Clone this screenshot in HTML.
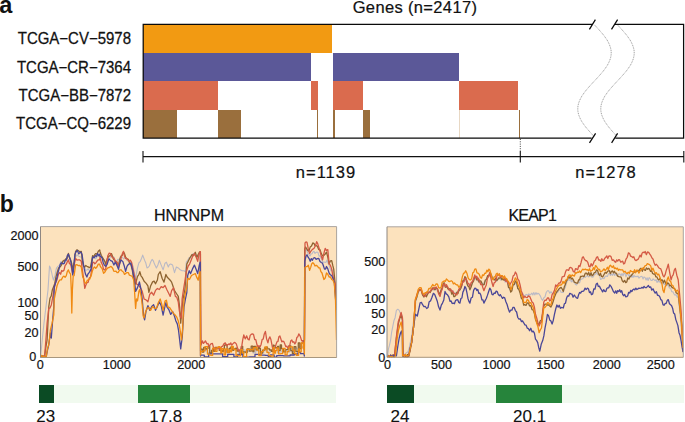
<!DOCTYPE html>
<html><head><meta charset="utf-8">
<style>
html,body{margin:0;padding:0;background:#fff;width:685px;height:422px;overflow:hidden}
svg{position:absolute;left:0;top:0;display:block}
text{font-family:"Liberation Sans",sans-serif;fill:#111}
.m{stroke:#111;stroke-width:0.22}
</style></head><body>
<svg width="685" height="422" viewBox="0 0 685 422">
<defs>
<clipPath id="cH"><rect x="40.5" y="226.6" width="296.5" height="131"/></clipPath>
<clipPath id="cK"><rect x="387" y="226.8" width="296.3" height="130.6"/></clipPath>
</defs>
<!-- panel a -->
<text x="-0.8" y="12.8" font-size="23.5" font-weight="bold">a</text>
<text class="m" x="415" y="12.7" font-size="16.5" letter-spacing="0.35" text-anchor="middle">Genes (n=2417)</text>
<g font-size="15" text-anchor="end" style="stroke:#111;stroke-width:0.25">
<text transform="translate(131 44.1) scale(1 1.05)">TCGA−CV−5978</text>
<text transform="translate(131 72.6) scale(1 1.05)">TCGA−CR−7364</text>
<text transform="translate(131 100.8) scale(1 1.05)">TCGA−BB−7872</text>
<text transform="translate(131 129.2) scale(1 1.05)">TCGA−CQ−6229</text>
</g>
<g shape-rendering="crispEdges">
<rect x="143" y="24.4" width="189.2" height="28.4" fill="#F29A12"/>
<rect x="143" y="52.8" width="168.1" height="28.4" fill="#5B5898"/>
<rect x="332.7" y="52.8" width="126" height="28.4" fill="#5B5898"/>
<rect x="143" y="81.2" width="75.1" height="28.5" fill="#DA6B4E"/>
<rect x="311.1" y="81.2" width="6.7" height="28.5" fill="#DA6B4E"/>
<rect x="332.7" y="81.2" width="30.3" height="28.5" fill="#DA6B4E"/>
<rect x="458.7" y="81.2" width="59.5" height="28.5" fill="#DA6B4E"/>
<rect x="143" y="109.7" width="33.9" height="28.3" fill="#9A6F3D"/>
<rect x="218.1" y="109.7" width="22.8" height="28.3" fill="#9A6F3D"/>
<rect x="316.8" y="109.7" width="1.4" height="28.3" fill="#9A6F3D"/>
<rect x="332.6" y="109.7" width="2.2" height="28.3" fill="#9A6F3D"/>
<rect x="363" y="109.7" width="6.7" height="28.3" fill="#9A6F3D"/>
<rect x="518.5" y="109.7" width="1.8" height="28.3" fill="#9A6F3D"/>
<rect x="458.7" y="109.7" width="0.8" height="28.3" fill="#E8D8C4"/>
</g>
<g stroke="#0a0a0a" stroke-width="1.25" fill="none">
<path d="M592.4 24.4 H143.2 V138 H591.6"/>
<path d="M615 24.4 H683.6 V138 H615.3"/>
<path d="M589.4 29.4 L595.4 19.6 M611.5 29.4 L617.6 19.6 M589.5 142.9 L595.6 133.3 M611.6 142.9 L617.6 133.3"/>
</g>
<g stroke="#555" stroke-width="0.6" fill="none" stroke-dasharray="1 0.8">
<path d="M594.5 24.9 L595.4 25.9 L596.4 26.9 L597.3 27.9 L598.2 28.9 L599.1 29.9 L600.0 30.9 L600.9 31.9 L601.7 32.9 L602.6 33.9 L603.4 34.9 L604.2 35.9 L604.9 36.9 L605.6 37.9 L606.3 38.9 L607.0 39.9 L607.6 40.9 L608.1 41.9 L608.6 42.9 L609.1 43.9 L609.5 44.9 L609.9 45.9 L610.3 46.9 L610.5 47.9 L610.8 48.9 L611.0 49.9 L611.1 50.9 L611.2 51.9 L611.2 52.9 L611.2 53.9 L611.1 54.9 L611.0 55.9 L610.8 56.9 L610.5 57.9 L610.3 58.9 L609.9 59.9 L609.5 60.9 L609.1 61.9 L608.6 62.9 L608.1 63.9 L607.6 64.9 L607.0 65.9 L606.3 66.9 L605.6 67.9 L604.9 68.9 L604.2 69.9 L603.4 70.9 L602.6 71.9 L601.7 72.9 L600.9 73.9 L600.0 74.9 L599.1 75.9 L598.2 76.9 L597.3 77.9 L596.4 78.9 L595.4 79.9 L594.5 80.9 L593.6 81.9 L592.6 82.9 L591.7 83.9 L590.8 84.9 L589.9 85.9 L589.0 86.9 L588.1 87.9 L587.3 88.9 L586.4 89.9 L585.6 90.9 L584.8 91.9 L584.1 92.9 L583.4 93.9 L582.7 94.9 L582.0 95.9 L581.4 96.9 L580.9 97.9 L580.4 98.9 L579.9 99.9 L579.5 100.9 L579.1 101.9 L578.7 102.9 L578.5 103.9 L578.2 104.9 L578.0 105.9 L577.9 106.9 L577.8 107.9 L577.8 108.9 L577.8 109.9 L577.9 110.9 L578.0 111.9 L578.2 112.9 L578.5 113.9 L578.7 114.9 L579.1 115.9 L579.5 116.9 L579.9 117.9 L580.4 118.9 L580.9 119.9 L581.4 120.9 L582.0 121.9 L582.7 122.9 L583.4 123.9 L584.1 124.9 L584.8 125.9 L585.6 126.9 L586.4 127.9 L587.3 128.9 L588.1 129.9 L589.0 130.9 L589.9 131.9 L590.8 132.9 L591.7 133.9 L592.6 134.9 L593.6 135.9 L594.5 136.9"/>
<path d="M617.5 24.9 L618.4 25.9 L619.4 26.9 L620.3 27.9 L621.2 28.9 L622.1 29.9 L623.0 30.9 L623.9 31.9 L624.7 32.9 L625.6 33.9 L626.4 34.9 L627.2 35.9 L627.9 36.9 L628.6 37.9 L629.3 38.9 L630.0 39.9 L630.6 40.9 L631.1 41.9 L631.6 42.9 L632.1 43.9 L632.5 44.9 L632.9 45.9 L633.3 46.9 L633.5 47.9 L633.8 48.9 L634.0 49.9 L634.1 50.9 L634.2 51.9 L634.2 52.9 L634.2 53.9 L634.1 54.9 L634.0 55.9 L633.8 56.9 L633.5 57.9 L633.3 58.9 L632.9 59.9 L632.5 60.9 L632.1 61.9 L631.6 62.9 L631.1 63.9 L630.6 64.9 L630.0 65.9 L629.3 66.9 L628.6 67.9 L627.9 68.9 L627.2 69.9 L626.4 70.9 L625.6 71.9 L624.7 72.9 L623.9 73.9 L623.0 74.9 L622.1 75.9 L621.2 76.9 L620.3 77.9 L619.4 78.9 L618.4 79.9 L617.5 80.9 L616.6 81.9 L615.6 82.9 L614.7 83.9 L613.8 84.9 L612.9 85.9 L612.0 86.9 L611.1 87.9 L610.3 88.9 L609.4 89.9 L608.6 90.9 L607.8 91.9 L607.1 92.9 L606.4 93.9 L605.7 94.9 L605.0 95.9 L604.4 96.9 L603.9 97.9 L603.4 98.9 L602.9 99.9 L602.5 100.9 L602.1 101.9 L601.7 102.9 L601.5 103.9 L601.2 104.9 L601.0 105.9 L600.9 106.9 L600.8 107.9 L600.8 108.9 L600.8 109.9 L600.9 110.9 L601.0 111.9 L601.2 112.9 L601.5 113.9 L601.7 114.9 L602.1 115.9 L602.5 116.9 L602.9 117.9 L603.4 118.9 L603.9 119.9 L604.4 120.9 L605.0 121.9 L605.7 122.9 L606.4 123.9 L607.1 124.9 L607.8 125.9 L608.6 126.9 L609.4 127.9 L610.3 128.9 L611.1 129.9 L612.0 130.9 L612.9 131.9 L613.8 132.9 L614.7 133.9 L615.6 134.9 L616.6 135.9 L617.5 136.9"/>
</g>
<g stroke="#111" stroke-width="1.1" fill="none">
<path d="M143 156.6 H684"/>
<path d="M143 151 V162.4 M520.3 151 V162.6 M683.8 151 V162.4"/>
</g>
<path d="M520.3 139 V151" stroke="#111" stroke-width="0.8" stroke-dasharray="1 1.3" fill="none"/>
<text class="m" x="326" y="178" font-size="16.5" letter-spacing="1" text-anchor="middle">n=1139</text>
<text class="m" x="606" y="178.2" font-size="16.5" letter-spacing="1" text-anchor="middle">n=1278</text>

<!-- panel b -->
<text x="-0.2" y="212.3" font-size="23" font-weight="bold">b</text>
<text class="m" x="189" y="220.7" font-size="16" text-anchor="middle">HNRNPM</text>
<text class="m" x="532.3" y="220.7" font-size="16" letter-spacing="-0.8" text-anchor="middle">KEAP1</text>

<!-- plot backgrounds -->
<rect x="40.5" y="226.6" width="296.5" height="131" fill="#FCE2BD"/>
<rect x="387" y="226.8" width="296.3" height="130.6" fill="#FCE2BD"/>
<g fill="none" stroke-width="1.3" stroke-linejoin="round" clip-path="url(#cH)">
<polyline points="40.5,357.0 41.7,345.7 42.8,334.3 44.0,323.0 45.0,314.8 46.0,306.5 47.0,298.2 48.0,290.0 49.5,266.0 50.5,268.1 51.5,272.0 52.5,276.5 53.5,280.0 55.0,275.7 56.4,268.4 57.5,266.7 58.5,266.0 59.7,265.4 60.8,261.6 62.0,262.0 63.2,261.7 64.4,260.8 65.6,262.0 67.0,259.2 68.4,255.0 69.5,256.6 70.6,260.0 71.7,266.8 72.7,271.0 74.2,262.6 75.6,257.0 77.0,254.7 78.4,256.0 79.8,256.8 81.3,257.0 82.3,261.1 83.4,266.0 84.6,266.6 85.7,270.3 86.9,270.0 88.1,268.9 89.3,270.3 90.5,270.0 91.5,262.4 92.6,258.0 93.7,258.3 94.8,257.2 95.8,258.8 96.9,257.0 98.3,254.9 99.7,255.0 100.0,254.0 101.0,255.2 102.0,258.0 103.0,258.4 104.0,260.0 105.0,262.0 106.1,262.5 107.2,260.9 108.3,258.4 109.4,259.2 110.5,256.6 111.6,256.0 112.6,257.7 113.6,256.9 114.6,258.6 115.6,261.7 116.6,262.0 117.8,259.2 119.0,259.7 120.3,256.6 121.5,256.0 122.6,257.7 123.7,258.9 124.8,257.5 126.0,258.3 127.1,260.5 128.2,261.0 129.4,261.3 130.6,264.4 131.8,263.7 133.0,266.0 134.3,272.6 135.6,278.3 137.5,267.9 138.9,262.9 140.3,261.3 141.5,258.5 142.7,255.1 144.6,260.3 145.8,263.0 147.0,267.9 148.2,267.3 149.3,266.0 150.8,261.8 152.2,259.4 153.3,260.8 154.5,264.1 156.4,267.9 157.9,265.0 159.3,260.3 161.2,265.1 163.1,269.8 165.0,263.2 166.4,262.2 168.3,267.0 169.5,264.6 170.7,264.1 172.6,265.1 174.5,272.6 176.4,267.0 178.3,267.9 180.2,269.8 182.1,270.7 184.0,270.7 185.4,271.7 186.3,262.2 187.7,260.3 189.2,257.5 190.6,257.9 192.0,255.0 193.1,253.5 194.2,255.3 195.3,253.0 197.0,257.0 198.3,254.4 199.6,253.0 200.2,253.0 200.5,352.0 200.8,349.9 203.0,349.9 203.0,349.7 205.6,349.7 205.6,350.6 207.2,350.6 207.2,352.5 209.8,352.5 209.8,352.4 212.2,352.4 212.2,349.3 213.9,349.3 213.9,349.6 216.5,349.6 216.5,348.5 219.1,348.5 219.1,349.3 220.7,349.3 220.7,351.3 223.1,351.3 223.1,350.8 225.2,350.8 225.2,351.1 227.4,351.1 227.4,349.0 229.0,349.0 229.0,348.6 231.1,348.6 231.1,349.8 232.6,349.8 232.6,349.7 235.5,349.7 235.5,349.1 238.3,349.1 238.3,352.6 239.7,352.6 239.7,352.2 241.1,352.2 241.1,351.4 242.3,351.4 242.3,349.9 244.3,349.9 244.3,350.2 247.0,350.2 247.0,351.4 248.0,351.4 248.0,351.0 249.2,351.0 249.2,349.3 251.0,349.3 251.0,349.9 253.1,349.9 253.1,352.9 255.7,352.9 255.7,351.0 258.3,351.0 258.3,349.3 260.8,349.3 260.8,352.9 263.7,352.9 263.7,350.8 265.8,350.8 265.8,350.2 267.7,350.2 267.7,353.0 269.0,353.0 269.0,352.4 270.4,352.4 270.4,351.0 272.5,351.0 272.5,348.7 274.5,348.7 274.5,348.6 277.4,348.6 277.4,352.7 279.5,352.7 279.5,352.0 282.0,352.0 282.0,349.4 283.1,349.4 283.1,350.2 285.0,350.2 285.0,350.7 287.3,350.7 287.3,351.9 289.5,351.9 289.5,348.5 291.1,348.5 291.1,351.3 293.9,351.3 293.9,347.8 296.4,347.8 296.4,348.8 298.0,348.8 298.0,349.9 299.6,349.9 299.6,346.4 301.7,346.4 301.7,347.4 303.0,347.4 303.0,346.2 304.2,346.2 304.5,351.0 304.7,251.0 306.3,249.6 307.5,252.6 308.8,254.5 310.0,256.0 311.0,254.0 312.0,253.7 313.0,252.0 314.0,251.3 315.0,253.5 316.0,252.4 317.0,252.0 318.0,252.5 319.0,256.1 320.0,255.9 321.0,258.0 322.0,260.3 323.0,262.4 324.0,262.0 325.0,262.3 326.0,262.4 327.0,260.0 328.0,263.2 329.0,264.8 330.0,268.0 331.0,270.9 332.0,269.9 333.0,272.0 334.0,278.9 335.0,285.0 336.5,300.0" stroke="#B9B9C6" stroke-width="1.1"/>
<polyline points="40.5,357.3 41.5,356.1 42.5,356.0 43.6,357.3 44.6,356.3 45.9,347.0 47.1,339.8 48.8,306.6 50.0,298.3 51.2,296.0 52.3,290.1 53.5,287.0 54.7,283.7 55.9,277.2 57.1,272.7 58.5,268.1 59.9,267.0 61.3,265.3 62.8,261.3 63.8,260.4 64.9,260.2 66.0,258.6 67.0,258.5 68.4,253.5 69.5,257.6 70.6,259.9 71.7,263.4 72.7,269.9 74.2,261.9 75.6,251.4 77.0,249.8 78.4,250.7 79.8,251.7 81.3,251.4 82.3,260.3 83.4,265.6 84.6,267.2 85.7,265.5 86.9,266.3 88.1,266.8 89.3,267.6 90.5,267.0 91.5,262.1 92.6,255.6 93.7,256.8 94.8,254.4 95.8,253.6 96.9,254.2 98.3,251.3 99.7,250.0 100.0,251.4 101.2,255.2 102.4,257.3 103.6,259.3 104.7,261.1 105.7,264.3 107.2,258.9 108.6,256.4 110.0,255.6 111.4,253.6 112.5,256.2 113.6,259.3 115.0,260.6 116.4,262.9 117.5,264.9 118.5,265.0 119.9,259.0 121.3,255.7 122.4,255.1 123.5,252.1 124.5,253.7 125.6,257.1 127.0,258.8 128.4,259.3 129.6,263.2 130.8,264.1 132.2,269.6 133.7,278.3 135.6,284.0 137.5,276.4 138.7,274.9 139.8,271.7 141.0,275.8 142.2,277.4 144.1,281.2 146.0,283.1 147.9,285.9 148.9,292.3 150.7,285.7 152.6,281.9 154.1,281.1 155.5,283.8 157.4,280.0 158.3,274.5 160.2,271.7 162.1,278.3 164.0,282.1 165.9,274.5 167.1,277.0 168.3,278.3 170.2,280.2 171.6,282.1 172.6,285.0 174.5,290.7 176.4,293.5 178.3,296.4 179.7,307.7 180.7,323.2 181.6,311.5 183.0,299.2 184.9,289.7 186.8,264.1 188.7,260.3 190.1,257.5 192.0,254.6 193.4,255.6 195.3,252.3 196.8,257.5 198.6,253.7 199.6,251.8 200.2,251.8 200.4,254.0 200.6,351.0 200.9,349.2 202.5,349.2 202.5,352.2 203.7,352.2 203.7,347.5 205.5,347.5 205.5,349.1 206.8,349.1 206.8,348.4 208.1,348.4 208.1,346.1 209.7,346.1 209.7,353.0 211.5,353.0 211.5,350.5 212.8,350.5 212.8,348.6 213.8,348.6 213.8,351.4 215.0,351.4 215.0,347.3 217.2,347.3 217.2,347.7 219.3,347.7 219.3,350.4 221.2,350.4 221.2,350.5 222.3,350.5 222.3,351.3 223.4,351.3 223.4,348.4 224.4,348.4 224.4,345.1 225.7,345.1 225.7,344.6 227.1,344.6 227.1,352.6 229.3,352.6 229.3,348.5 230.2,348.5 230.2,347.8 231.1,347.8 231.1,346.6 232.8,346.6 232.8,350.4 233.6,350.4 233.6,349.1 235.0,349.1 235.0,348.3 236.0,348.3 236.0,348.2 236.9,348.2 236.9,351.0 238.6,351.0 238.6,350.5 240.0,350.5 240.0,353.6 241.3,353.6 241.3,346.4 242.7,346.4 242.7,353.2 243.7,353.2 243.7,351.8 245.8,351.8 245.8,352.6 247.2,352.6 247.2,348.8 249.3,348.8 249.3,351.2 251.2,351.2 251.2,346.2 252.8,346.2 252.8,351.5 254.0,351.5 254.0,346.5 256.0,346.5 256.0,349.9 257.3,349.9 257.3,349.1 258.5,349.1 258.5,346.9 259.4,346.9 259.4,348.3 260.4,348.3 260.4,353.0 262.6,353.0 262.6,350.1 263.5,350.1 263.5,350.2 264.5,350.2 264.5,348.0 265.5,348.0 265.5,349.2 266.4,349.2 266.4,347.2 267.5,347.2 267.5,348.9 269.6,348.9 269.6,350.0 271.5,350.0 271.5,351.4 273.1,351.4 273.1,345.1 274.0,345.1 274.0,345.8 275.5,345.8 275.5,347.7 277.6,347.7 277.6,346.4 278.6,346.4 278.6,350.6 280.2,350.6 280.2,345.0 281.5,345.0 281.5,348.7 283.5,348.7 283.5,351.9 285.5,351.9 285.5,349.6 287.6,349.6 287.6,349.0 288.8,349.0 288.8,345.8 290.8,345.8 290.8,350.7 292.4,350.7 292.4,353.6 294.1,353.6 294.1,346.6 295.9,346.6 295.9,351.7 296.9,351.7 296.9,351.4 298.3,351.4 298.3,342.9 299.8,342.9 299.8,348.7 301.3,348.7 301.3,343.2 303.2,343.2 303.2,340.8 304.1,340.8 304.4,350.0 304.7,249.0 305.6,247.0 306.7,248.8 307.8,250.6 308.9,250.9 310.2,247.1 311.5,246.1 312.8,243.0 313.9,243.3 315.0,245.6 316.1,245.6 317.4,246.3 318.7,249.6 320.0,249.6 321.3,253.6 322.6,256.0 323.9,255.4 325.2,254.0 326.5,252.2 327.8,257.2 329.1,263.9 330.4,260.8 331.7,260.6 332.7,265.2 333.7,269.1 335.0,282.2 336.5,310.0" stroke="#8E6431"/>
<polyline points="40.5,357.3 41.5,355.9 42.5,357.3 43.6,355.8 44.6,356.3 45.9,339.8 47.1,323.2 48.8,308.2 50.0,308.0 51.3,304.9 52.8,296.9 54.2,288.6 55.6,282.7 57.0,279.7 58.5,274.1 59.6,272.5 60.6,274.3 61.7,270.5 62.8,271.3 64.0,270.2 65.1,265.7 66.3,264.2 67.3,261.8 68.4,259.9 69.5,263.7 70.6,264.2 71.7,268.8 72.7,274.1 74.2,264.6 75.6,258.5 77.0,260.1 78.4,259.9 79.8,259.9 81.3,261.3 82.3,269.6 83.4,277.0 84.8,288.4 85.8,285.3 86.9,282.7 88.1,282.3 89.3,278.0 90.5,277.0 91.5,270.9 92.6,262.8 93.7,262.2 94.8,263.8 95.8,262.9 96.9,261.3 98.3,259.8 99.7,259.9 100.0,257.1 101.2,262.4 102.4,264.7 103.6,269.3 104.7,270.0 105.7,268.6 106.8,263.2 107.8,255.7 109.2,253.1 110.7,253.6 111.8,256.8 112.8,257.9 114.0,258.2 115.2,261.7 116.4,261.4 117.5,262.8 118.5,266.4 119.9,263.1 121.3,257.1 122.4,253.6 123.5,251.4 124.5,256.2 125.6,258.6 127.0,258.7 128.4,260.7 129.4,261.2 130.4,260.3 131.6,262.4 132.7,267.9 134.6,276.4 136.5,284.0 138.4,285.0 140.3,287.6 142.2,291.4 144.1,299.0 146.0,299.9 147.9,301.8 149.8,294.2 151.7,292.3 153.6,295.2 155.5,290.4 157.4,288.5 159.3,289.5 161.2,286.6 163.1,287.6 165.0,285.5 166.9,289.7 168.8,293.5 170.2,296.4 171.6,290.7 173.5,287.8 175.4,296.4 176.8,297.3 178.3,302.1 179.2,309.6 180.2,316.3 181.5,318.2 182.1,299.2 183.5,289.7 184.9,281.2 186.3,271.7 188.2,266.0 189.6,264.1 191.1,260.3 193.0,255.6 194.4,253.7 196.3,257.5 197.7,261.3 199.1,253.7 200.1,251.8 200.4,251.8 200.4,251.6 201.0,344.9 202.5,340.9 203.5,343.4 204.5,342.4 205.4,340.9 207.0,343.9 208.0,343.5 209.0,346.4 210.9,343.9 212.4,343.4 213.4,347.2 214.4,349.9 215.4,347.7 216.4,348.9 217.4,348.5 218.4,346.9 219.9,349.9 221.4,346.9 222.7,346.1 223.9,343.9 225.3,342.9 226.8,345.9 227.8,344.7 228.8,343.9 229.8,344.6 230.8,342.9 231.8,345.2 232.8,343.9 233.8,342.9 234.8,342.4 236.3,343.9 237.8,348.9 238.8,350.9 239.8,349.9 240.8,349.1 241.8,345.9 242.8,339.4 243.8,334.9 245.2,338.9 246.7,335.9 247.9,339.1 249.2,339.9 250.2,335.4 251.2,334.4 252.3,333.9 253.5,334.4 254.7,339.5 255.8,339.7 257.0,344.9 258.0,346.9 259.0,345.7 260.0,346.9 261.1,344.4 262.2,339.4 263.2,339.2 264.3,333.9 265.4,331.4 266.6,338.9 267.9,342.9 268.9,338.7 269.9,336.9 270.9,339.5 271.9,344.7 272.9,349.9 273.9,349.9 274.9,347.7 275.9,344.9 276.9,341.9 277.9,341.5 278.9,336.8 279.9,335.9 281.8,341.9 282.8,341.1 283.8,341.6 284.8,343.9 285.8,346.7 286.8,346.2 287.8,347.9 288.8,346.6 289.8,345.2 290.8,340.7 291.8,339.9 292.8,342.3 293.8,341.7 294.8,343.9 295.8,342.3 296.8,337.6 297.8,336.7 298.8,333.9 300.2,336.1 301.7,340.9 302.7,340.6 303.7,342.9 304.5,340.0 305.0,243.0 306.0,241.9 307.0,242.4 308.3,248.9 309.6,253.5 310.9,251.1 312.2,249.6 314.1,248.3 315.4,245.7 316.7,241.7 317.7,243.6 318.7,247.0 320.0,251.1 321.3,256.3 322.6,260.0 323.9,253.3 325.2,248.3 326.5,250.6 327.8,249.6 329.1,263.9 330.4,265.2 331.7,269.1 332.7,275.2 333.7,279.5 335.6,284.8 336.5,300.0" stroke="#D45A45"/>
<polyline points="40.5,357.3 41.7,356.0 42.8,357.3 44.0,356.2 45.1,357.1 46.3,356.3 47.5,350.1 48.8,344.7 50.4,333.0 51.3,338.0 52.5,322.3 53.8,306.6 54.2,287.0 55.7,282.5 57.1,277.0 58.2,271.8 59.2,268.4 60.2,264.4 61.3,262.8 62.8,263.8 64.2,263.5 65.2,260.2 66.3,260.0 67.3,255.6 68.4,254.2 69.9,258.5 71.0,262.1 72.0,268.4 72.7,275.0 73.4,271.3 74.9,254.2 76.3,251.4 77.5,250.4 78.6,253.9 79.8,252.8 80.9,252.1 82.0,254.2 83.4,264.2 84.5,270.0 85.5,274.1 86.9,277.0 88.0,274.0 89.1,272.7 90.2,270.9 91.2,268.4 92.6,257.0 94.0,257.8 95.5,255.6 96.5,256.6 97.6,253.5 98.7,255.8 99.7,254.2 100.0,256.4 101.0,256.7 102.1,257.9 103.2,262.5 104.3,265.0 105.7,266.4 107.1,264.3 108.9,258.9 110.7,260.6 112.4,261.4 113.9,265.0 115.3,262.1 117.1,265.7 118.5,269.3 119.9,262.9 121.0,260.0 122.8,261.4 124.2,265.7 125.6,271.4 127.0,266.4 128.4,264.3 129.9,263.6 130.8,263.2 132.7,270.7 134.6,282.1 135.6,291.4 137.5,287.6 139.4,281.9 140.8,288.5 142.2,299.0 143.6,316.0 144.6,319.8 146.0,311.3 147.9,305.6 149.8,310.3 151.7,306.5 153.6,304.6 155.5,310.3 157.4,306.5 159.3,301.8 161.2,305.6 163.1,315.1 164.5,308.4 165.9,302.7 166.9,306.8 168.8,309.6 170.7,314.4 172.6,311.5 174.5,316.3 175.9,321.0 177.3,323.9 178.5,330.0 179.6,339.4 180.7,348.9 182.3,336.4 184.0,306.8 185.4,299.2 186.8,292.6 187.7,275.5 189.2,270.7 190.6,273.6 192.5,268.9 194.4,265.1 196.3,269.8 197.7,273.6 199.1,266.0 200.1,262.2 200.3,262.2 200.5,356.0 200.8,355.2 204.3,355.2 204.3,357.0 208.7,357.0 208.7,353.8 214.4,353.8 214.4,353.8 217.5,353.8 217.5,353.8 222.6,353.8 222.6,356.7 227.7,356.7 227.7,354.3 233.9,354.3 233.9,356.8 237.5,356.8 237.5,354.5 242.9,354.5 242.9,357.2 249.4,357.2 249.4,356.8 255.0,356.8 255.0,354.4 260.1,354.4 260.1,355.1 265.3,355.1 265.3,355.4 268.3,355.4 268.3,356.9 270.5,356.9 270.5,354.8 274.1,354.8 274.1,357.2 276.7,357.2 276.7,355.7 283.4,355.7 283.4,355.8 290.1,355.8 290.1,355.0 294.3,355.0 294.3,354.0 298.1,354.0 298.1,352.3 300.5,352.3 300.5,353.7 304.0,353.7 304.3,356.0 304.8,261.3 305.9,256.5 307.0,254.8 308.1,257.2 309.1,258.6 310.2,261.3 311.3,258.6 312.4,260.3 313.5,258.0 314.8,257.6 316.1,259.3 317.4,258.7 318.7,258.3 320.0,261.6 321.3,262.6 322.4,263.0 323.4,265.8 324.5,269.1 325.5,269.1 326.5,266.5 327.8,268.9 329.1,273.0 330.4,274.8 331.7,275.6 333.0,278.6 334.3,282.2 336.0,305.0" stroke="#4A4798"/>
<polyline points="40.5,357.0 41.7,355.5 42.8,357.3 44.0,356.0 45.1,357.3 46.3,356.3 47.4,348.9 48.5,345.6 49.6,338.1 50.4,329.8 52.1,323.2 53.8,314.9 54.2,299.7 55.7,292.0 57.1,285.5 58.5,281.9 59.9,279.8 61.3,279.9 62.8,277.0 64.0,276.1 65.1,277.3 66.3,275.6 67.3,271.5 68.4,269.9 69.5,272.7 70.6,274.1 71.3,290.0 71.8,313.0 72.4,290.0 73.2,276.0 74.1,275.6 75.6,264.9 77.0,264.7 78.4,265.6 79.8,265.5 81.3,267.0 82.7,277.0 83.8,278.9 84.8,282.7 86.0,283.3 87.2,280.4 88.4,279.8 89.8,278.9 91.2,275.6 92.2,271.6 93.3,268.4 94.5,266.9 95.7,268.4 96.9,267.0 98.3,264.1 99.7,264.2 100.0,265.6 101.0,267.4 102.1,268.5 103.6,273.4 104.7,272.3 105.7,270.6 106.8,269.0 107.8,267.8 109.2,267.5 110.7,266.4 111.8,267.1 112.8,268.5 113.8,271.2 114.9,271.3 116.0,271.1 117.1,272.7 118.2,272.5 119.2,270.6 120.2,269.9 121.3,269.9 122.4,271.5 123.5,272.0 124.5,274.4 125.6,273.4 127.0,272.6 128.4,272.7 129.4,275.2 130.4,275.5 132.3,276.4 133.7,280.0 134.6,292.3 135.6,308.4 136.5,299.0 137.5,300.9 138.9,291.4 139.8,289.5 141.3,297.1 142.2,304.6 143.2,316.0 144.1,317.9 145.5,312.2 147.0,308.4 148.9,307.5 150.7,310.3 152.6,306.5 154.5,308.4 156.4,308.4 158.3,302.7 160.2,299.0 161.6,303.7 163.1,310.3 165.0,301.1 166.4,300.2 167.8,306.8 169.7,307.7 171.6,310.6 173.5,313.4 175.4,315.3 176.8,317.2 178.3,321.0 179.2,324.8 180.3,331.0 181.5,339.8 182.5,330.0 184.0,300.2 185.4,292.6 186.8,287.8 187.7,278.3 189.6,279.3 191.5,275.5 193.4,274.5 195.3,273.6 196.8,277.4 198.2,280.2 199.6,272.6 200.2,271.7 200.5,355.0 200.8,351.6 202.7,351.6 202.7,350.9 205.0,350.9 205.0,346.7 207.5,346.7 207.5,354.1 209.7,354.1 209.7,355.2 210.8,355.2 210.8,355.3 212.7,355.3 212.7,348.1 215.0,348.1 215.0,351.3 217.0,351.3 217.0,347.4 219.0,347.4 219.0,346.6 219.9,346.6 219.9,347.6 220.8,347.6 220.8,352.9 221.9,352.9 221.9,348.6 224.1,348.6 224.1,354.8 225.6,354.8 225.6,348.8 227.7,348.8 227.7,352.4 229.1,352.4 229.1,349.8 230.5,349.8 230.5,351.8 231.6,351.8 231.6,346.5 233.2,346.5 233.2,348.8 234.1,348.8 234.1,349.5 236.0,349.5 236.0,355.5 236.9,355.5 236.9,355.2 238.2,355.2 238.2,355.8 240.5,355.8 240.5,349.7 242.4,349.7 242.4,352.6 243.6,352.6 243.6,356.9 245.5,356.9 245.5,356.7 246.6,356.7 246.6,349.3 248.9,349.3 248.9,349.7 250.4,349.7 250.4,349.5 252.6,349.5 252.6,349.7 253.6,349.7 253.6,347.7 255.9,347.7 255.9,347.1 257.0,347.1 257.0,350.1 258.8,350.1 258.8,355.5 261.2,355.5 261.2,351.6 263.2,351.6 263.2,349.9 264.9,349.9 264.9,346.9 266.9,346.9 266.9,352.3 268.9,352.3 268.9,355.6 271.1,355.6 271.1,357.1 273.1,357.1 273.1,347.7 274.5,347.7 274.5,353.2 275.5,353.2 275.5,350.7 276.9,350.7 276.9,348.0 278.5,348.0 278.5,353.8 280.8,353.8 280.8,353.6 282.7,353.6 282.7,348.4 285.1,348.4 285.1,354.8 287.1,354.8 287.1,351.6 288.9,351.6 288.9,347.4 290.2,347.4 290.2,346.8 292.7,346.8 292.7,350.1 294.6,350.1 294.6,353.6 296.2,353.6 296.2,355.3 298.6,355.3 298.6,349.0 299.5,349.0 299.5,351.8 301.2,351.8 301.2,342.9 303.2,342.9 303.2,348.4 304.1,348.4 304.4,354.0 304.8,267.8 306.0,266.6 307.1,266.7 308.3,265.2 309.6,270.4 310.7,267.4 311.7,263.9 312.8,262.6 313.9,263.8 315.0,266.0 316.1,265.2 317.4,266.1 318.7,267.8 319.8,267.9 320.9,271.6 322.0,273.0 323.9,279.5 325.2,278.0 326.5,273.0 327.8,274.2 329.1,277.0 330.4,276.9 331.7,279.5 333.0,280.3 334.3,283.5 335.5,300.0 336.5,340.0" stroke="#F08A12"/>
</g>
<g fill="none" stroke-width="1.3" stroke-linejoin="round" clip-path="url(#cK)">
<polyline points="387.5,356.0 388.5,348.7 389.5,345.2 390.6,340.1 391.6,332.4 392.6,327.4 393.9,320.8 395.1,317.7 396.4,310.4 397.8,309.2 399.2,310.4 400.6,314.1 402.1,316.0 403.0,355.9 404.2,355.4 405.4,353.6 406.6,352.6 407.8,352.1 409.1,348.6 410.3,342.3 411.6,336.9 413.0,325.4 414.4,314.0 416.0,300.0 417.1,297.5 418.2,292.0 419.6,289.6 421.1,290.0 422.5,293.9 423.9,297.0 425.2,295.3 426.4,294.1 427.7,294.0 429.0,291.0 430.2,292.2 431.5,290.0 432.7,288.4 433.9,290.1 435.0,287.3 436.2,288.0 437.5,291.5 438.7,291.6 440.0,294.0 441.1,289.0 442.2,289.0 443.3,284.0 444.4,283.9 445.4,287.5 446.4,286.7 447.5,288.0 448.6,289.7 449.6,291.1 450.7,289.2 451.7,291.7 452.8,290.6 453.8,292.2 454.9,294.0 455.9,292.5 456.9,293.7 457.9,290.5 458.9,291.4 459.9,289.0 460.9,286.1 461.9,283.6 462.9,282.7 463.9,278.7 464.9,277.0 465.9,280.7 466.9,283.1 467.9,283.1 468.9,285.1 469.9,288.0 471.1,284.6 472.4,283.8 473.6,278.7 474.8,277.0 475.8,279.6 476.9,278.4 477.9,281.2 479.0,281.2 480.0,283.1 481.0,282.2 482.1,284.4 483.1,285.0 484.2,282.1 485.3,281.6 486.5,277.8 487.6,278.2 488.7,275.6 489.8,274.0 491.0,276.9 492.2,275.8 493.5,279.8 494.7,280.0 495.7,279.6 496.7,281.3 497.7,280.0 498.7,278.6 499.7,279.0 500.8,280.2 501.9,278.0 503.0,278.3 504.1,279.4 505.2,282.2 506.3,281.0 507.4,282.8 508.5,285.8 509.6,289.5 510.7,290.0 511.9,287.0 513.0,284.9 514.2,285.1 515.4,283.0 516.6,284.5 517.8,288.3 518.9,288.6 520.1,292.0 521.3,293.6 522.5,292.9 523.7,295.5 524.7,295.7 525.7,294.8 526.7,294.4 527.8,295.8 528.8,293.8 529.8,294.9 530.8,294.4 531.8,293.1 532.8,295.0 533.8,292.5 534.9,294.9 535.9,292.6 536.9,294.3 537.9,293.2 539.1,294.0 540.3,295.9 541.5,298.8 542.7,300.3 543.9,297.7 545.0,296.9 546.2,292.5 547.4,290.8 548.6,290.8 549.8,293.3 550.9,291.7 552.1,293.2 553.4,294.1 554.7,291.5 556.0,292.0 557.0,292.8 558.0,291.9 559.0,290.0 560.0,290.0 561.1,292.2 562.2,292.5 563.3,292.5 564.3,288.5 565.3,287.7 566.3,283.2 567.3,281.3 568.3,279.0 569.3,280.3 570.3,279.1 571.3,281.9 572.3,280.4 573.3,282.0 574.4,282.5 575.5,284.6 576.6,285.0 577.6,283.3 578.6,281.7 579.6,282.9 580.6,279.7 581.6,279.0 582.8,278.7 584.0,276.2 585.3,277.4 586.5,276.0 587.6,275.7 588.7,277.0 589.9,274.9 591.0,276.2 592.1,277.3 593.2,277.0 594.3,274.7 595.4,274.2 596.5,272.5 597.5,274.6 598.5,274.6 599.5,274.9 600.5,279.4 601.5,279.0 602.7,278.0 604.0,278.7 605.2,276.2 606.4,276.0 607.4,276.5 608.4,273.9 609.4,273.3 610.4,275.4 611.4,274.0 612.4,275.3 613.4,273.0 614.4,275.4 615.4,273.6 616.4,275.5 617.6,276.1 618.8,273.8 620.0,274.1 621.0,275.8 622.0,273.5 623.0,275.9 624.0,273.2 625.0,273.4 626.0,276.8 627.0,273.6 628.0,274.2 629.0,276.2 630.0,274.6 631.0,277.4 632.0,275.2 633.0,277.5 634.0,275.3 635.0,276.9 636.0,276.2 637.0,276.9 638.0,276.0 639.0,278.2 640.0,277.0 641.0,276.5 642.0,276.4 643.0,278.9 644.0,276.9 645.0,277.4 646.1,280.0 647.1,277.8 648.1,280.5 649.1,277.6 650.1,278.7 651.1,280.5 652.1,280.5 653.1,278.9 654.1,279.8 655.1,280.7 656.1,279.7 657.1,282.5 658.2,280.5 659.2,282.2 660.2,281.0 661.2,283.7 662.2,283.5 663.2,281.9 664.2,284.8 665.3,283.5 666.3,285.8 667.3,284.7 668.3,285.5 669.4,287.9 670.6,288.2 671.7,291.6 672.9,291.7 674.0,294.0 675.0,295.2 676.1,294.6 677.2,297.2 678.2,296.8 679.3,307.4 680.4,318.1 681.4,328.8 682.5,339.4" stroke="#B9B9C6" stroke-width="1.1"/>
<polyline points="387.5,357.0 388.5,356.3 389.5,357.3 390.5,355.2 391.5,357.2 392.5,355.1 393.5,354.8 394.5,355.9 396.4,338.0 398.3,324.0 399.7,318.6 401.1,315.0 402.5,320.0 403.0,355.9 404.1,356.4 405.3,355.5 406.4,357.2 407.6,354.5 408.7,356.0 410.1,350.9 411.6,342.6 413.5,327.4 415.4,301.0 416.8,297.0 418.2,292.0 419.6,289.6 421.1,290.0 422.5,294.8 423.9,297.0 425.2,294.3 426.4,296.8 427.7,294.0 429.0,292.0 430.2,292.5 431.5,290.0 432.7,287.9 433.9,288.3 435.0,289.8 436.2,288.0 437.5,288.7 438.7,292.8 440.0,294.0 441.1,290.0 442.2,288.2 443.3,283.2 444.4,283.0 445.4,287.2 446.4,286.1 447.5,288.0 448.6,289.5 449.6,288.8 450.7,290.2 451.7,294.1 452.8,292.4 453.8,296.7 454.9,296.5 455.9,294.3 456.9,292.2 457.9,293.5 458.9,290.0 459.9,290.0 460.9,288.2 461.9,285.3 462.9,280.7 463.9,280.9 464.9,276.6 465.9,277.6 466.9,283.5 467.9,285.9 468.9,286.7 469.9,289.8 471.1,287.0 472.4,282.9 473.6,281.0 474.8,276.6 475.8,276.9 476.9,280.0 477.9,277.9 479.0,282.1 480.0,280.8 481.0,281.2 482.1,283.6 483.1,284.9 484.2,284.7 485.3,280.0 486.5,279.5 487.6,275.6 488.7,276.2 489.8,273.2 491.0,274.1 492.2,278.2 493.5,278.9 494.7,279.9 495.7,278.0 496.7,280.7 497.7,279.5 498.7,277.9 499.7,278.2 500.8,277.2 501.9,279.8 503.0,278.5 504.1,280.3 505.2,278.6 506.3,279.9 507.4,281.4 508.5,287.5 509.6,287.6 510.7,292.0 511.9,290.7 513.0,285.0 514.2,284.5 515.4,281.0 516.6,282.4 517.8,288.6 518.9,289.6 520.1,293.0 521.3,298.0 522.5,299.5 523.7,305.0 524.9,304.7 526.0,305.4 527.2,303.0 528.4,303.0 529.6,305.9 530.8,305.5 532.0,309.6 533.2,310.0 534.4,313.5 535.5,319.4 536.7,322.0 537.9,324.6 539.1,324.0 540.3,320.7 541.5,320.0 542.6,313.8 543.8,306.0 545.0,304.1 546.2,304.1 547.4,305.0 548.6,304.9 549.7,306.0 550.9,307.0 552.1,304.5 553.3,301.0 554.5,296.9 555.7,294.0 556.8,291.8 557.9,290.3 558.9,289.1 560.0,288.1 561.1,287.4 562.2,289.0 563.3,291.4 564.3,286.8 565.3,284.8 566.3,281.0 567.3,279.9 568.3,276.5 569.3,278.1 570.3,276.2 571.3,279.1 572.3,278.1 573.3,279.8 574.4,282.2 575.5,282.6 576.6,283.1 577.6,283.2 578.6,280.0 579.6,279.8 580.6,276.3 581.6,276.5 582.8,276.0 584.0,276.6 585.3,273.2 586.5,273.2 587.6,274.9 588.7,272.5 589.9,275.7 591.0,272.6 592.1,275.8 593.2,274.8 594.3,272.6 595.4,272.3 596.5,269.9 597.5,270.3 598.5,273.6 599.5,275.4 600.5,273.4 601.5,276.5 602.7,276.9 604.0,274.5 605.2,272.4 606.4,273.2 607.4,271.6 608.4,270.8 609.4,270.7 610.4,273.6 611.4,271.5 612.4,270.9 613.4,272.8 614.4,271.3 615.4,273.2 616.4,273.2 617.6,276.1 618.8,276.7 620.0,276.9 621.1,277.1 622.3,280.9 623.4,282.0 624.6,280.4 625.7,282.6 626.8,281.9 627.8,278.0 628.9,279.0 630.0,276.6 631.0,276.0 632.1,274.5 633.1,273.3 634.2,271.3 635.2,272.6 636.2,271.4 637.2,271.1 638.3,270.3 639.3,270.6 640.3,268.4 641.3,268.6 642.3,271.4 643.3,267.7 644.3,269.9 645.4,270.4 646.4,267.9 647.4,269.2 648.4,268.4 649.5,269.1 650.5,271.4 651.6,270.6 652.6,273.5 653.7,274.1 654.8,273.9 655.8,276.8 656.9,276.9 658.0,279.3 659.0,280.0 660.1,278.3 661.2,280.4 662.3,279.9 663.4,282.9 664.4,280.2 665.5,282.6 666.6,284.7 667.6,282.9 668.7,283.6 669.8,286.0 670.8,285.3 671.9,287.3 672.9,287.8 674.0,288.3 675.0,289.1 676.1,292.7 677.2,293.4 678.2,294.0 679.4,304.4 680.7,314.8 681.9,325.2 683.1,352.0" stroke="#8E6431"/>
<polyline points="387.5,357.0 388.5,356.6 389.5,357.2 390.5,355.2 391.5,356.0 392.5,356.5 393.5,355.0 394.5,355.9 396.4,336.9 398.3,321.7 399.7,317.5 401.1,312.3 402.5,318.0 403.0,355.9 404.1,354.8 405.3,357.1 406.4,356.2 407.6,357.3 408.7,356.0 410.1,348.9 411.6,342.6 413.5,327.4 415.4,300.0 416.8,294.8 418.2,291.0 419.6,290.4 421.1,289.0 422.5,293.7 423.9,296.0 425.2,296.4 426.4,292.2 427.7,293.0 429.0,292.7 430.2,291.5 431.5,289.0 432.7,289.6 433.9,287.7 435.0,288.2 436.2,287.0 437.5,289.6 438.7,294.0 440.0,296.5 441.1,291.8 442.2,289.3 443.3,284.9 444.4,283.6 445.4,286.9 446.4,284.7 447.5,286.5 448.5,288.6 449.6,290.2 450.6,289.0 451.6,291.5 452.7,290.9 453.7,293.4 454.8,293.3 455.8,294.8 456.8,294.9 457.9,292.2 458.9,289.0 459.9,288.2 460.9,285.3 461.9,284.8 462.9,281.6 463.9,281.8 464.9,278.2 465.9,279.3 466.9,280.5 467.9,283.5 468.9,283.6 469.9,286.5 471.1,282.7 472.4,281.5 473.6,278.8 474.8,274.9 475.8,277.8 476.8,276.2 477.8,279.9 478.8,279.0 479.8,281.5 480.8,284.7 481.9,284.4 482.9,287.8 483.9,290.7 485.1,287.5 486.3,285.0 487.4,278.5 488.6,276.5 489.8,272.4 490.9,278.2 492.0,282.8 493.1,286.5 494.1,282.9 495.1,282.4 496.2,279.3 497.2,274.9 498.2,275.0 499.3,274.0 500.3,277.2 501.4,276.6 502.5,276.0 503.6,277.8 504.7,279.0 505.7,281.3 506.7,279.8 507.7,283.1 508.7,282.4 509.7,284.9 510.8,283.0 512.0,281.0 513.1,276.1 514.3,275.1 515.4,272.0 516.6,274.1 517.8,279.1 518.9,280.5 520.1,285.0 521.3,291.0 522.5,294.0 523.7,298.0 524.9,296.2 526.0,297.4 527.2,297.6 528.4,296.0 529.6,296.3 530.8,299.0 532.0,302.1 533.2,303.0 534.4,307.1 535.5,314.3 536.7,318.0 537.9,322.4 539.1,326.0 540.3,323.3 541.5,322.0 542.6,312.0 543.8,302.0 545.0,300.1 546.2,300.3 547.4,298.0 548.6,298.0 549.7,301.0 550.9,300.0 552.1,294.7 553.3,292.8 554.5,290.3 555.7,285.0 556.8,286.2 557.9,284.5 558.9,283.0 560.0,283.1 561.1,281.2 562.2,276.9 563.3,276.5 564.3,276.3 565.4,272.3 566.5,269.8 567.5,269.9 568.6,270.4 569.7,267.6 570.8,267.4 572.0,268.3 573.3,271.5 574.4,272.1 575.5,268.7 576.6,269.0 577.7,269.7 578.8,265.6 579.9,266.5 581.1,262.4 582.4,257.4 583.4,256.9 584.5,259.4 585.5,260.5 586.5,260.7 587.8,262.4 589.0,266.5 590.0,267.0 591.1,263.6 592.2,266.0 593.2,264.0 594.3,261.0 595.4,260.3 596.5,257.4 597.6,256.8 598.7,260.0 599.8,259.9 600.8,261.4 601.8,258.7 602.8,260.6 603.8,260.1 604.8,258.2 605.8,257.3 606.8,255.9 607.8,258.5 608.8,256.1 609.8,255.8 611.0,256.6 612.2,260.4 613.5,259.8 614.7,261.6 615.7,262.3 616.7,259.8 617.7,261.1 618.7,259.6 619.7,259.9 620.7,262.2 621.7,261.6 622.7,261.2 623.7,264.0 624.7,263.2 626.0,259.1 627.2,257.3 628.5,252.8 629.6,253.5 630.6,256.2 631.7,256.5 632.8,257.5 633.8,256.8 634.9,259.8 635.9,260.6 637.0,259.9 638.0,259.4 639.0,257.5 640.0,255.2 641.1,257.0 642.1,253.1 643.1,252.1 644.1,252.8 645.2,251.5 646.4,254.7 647.5,252.0 648.7,252.3 649.8,254.2 650.9,255.7 652.0,258.1 653.0,259.0 654.1,262.7 655.2,265.3 656.4,264.3 657.5,265.6 658.7,267.8 659.8,268.4 660.8,268.9 661.9,272.0 663.0,275.6 664.0,276.9 665.1,274.8 666.1,270.9 667.2,267.8 668.3,264.1 669.7,272.6 671.1,279.8 672.2,276.1 673.2,274.8 674.3,270.2 675.4,268.4 676.8,275.2 678.2,279.8 679.7,295.4 681.1,311.0 682.1,330.9 683.1,350.8" stroke="#D45A45"/>
<polyline points="387.5,357.0 388.6,355.5 389.7,357.3 390.8,355.1 391.9,357.3 393.1,355.4 394.2,357.3 395.3,354.6 396.4,355.9 398.0,345.0 399.2,338.0 400.5,333.0 401.5,331.0 402.3,336.0 402.6,355.9 403.6,356.4 404.6,357.3 405.6,355.6 406.7,357.0 407.7,357.1 408.7,356.0 410.1,348.2 411.6,342.6 413.5,327.4 415.4,314.2 417.3,316.0 418.7,309.7 420.1,302.8 421.4,302.4 422.6,304.7 423.9,306.6 425.3,306.5 426.7,308.5 428.0,307.5 429.2,301.7 430.5,300.9 431.9,297.5 433.4,293.3 434.7,294.4 435.9,297.6 437.2,300.9 438.6,306.8 440.0,310.0 441.3,305.1 442.5,303.1 443.8,300.0 445.0,291.5 446.2,293.9 447.5,294.8 448.8,296.9 450.0,301.4 451.1,300.9 452.2,303.5 453.3,303.1 454.4,303.7 455.5,300.6 456.6,299.8 457.7,299.7 458.8,302.4 459.9,303.1 460.9,298.5 461.9,298.0 462.9,292.1 463.9,290.1 464.9,286.5 465.9,288.2 466.9,292.7 467.9,298.2 468.9,301.4 469.9,303.1 471.1,298.0 472.4,297.3 473.6,290.4 474.8,288.2 475.8,288.4 476.8,290.5 477.8,289.4 478.8,293.4 479.8,293.1 480.8,295.0 481.9,299.8 482.9,299.8 483.9,303.1 485.1,300.6 486.3,298.5 487.4,295.4 488.6,291.7 489.8,288.2 490.9,289.9 492.0,294.4 493.1,294.8 494.1,293.0 495.1,293.4 496.2,291.1 497.2,291.5 498.2,294.4 499.3,295.7 500.3,294.6 501.4,296.5 502.5,298.4 503.6,297.2 504.7,297.9 505.9,301.8 507.1,304.5 508.3,308.8 509.5,312.1 510.7,310.2 511.9,310.2 513.0,307.3 514.2,307.4 515.4,310.6 516.6,312.0 517.8,317.5 519.0,319.2 520.2,318.8 521.4,321.6 522.5,320.9 523.7,322.8 524.9,324.9 526.0,325.1 527.2,328.1 528.4,328.7 529.6,330.7 530.8,328.3 532.0,331.9 533.2,331.1 534.4,333.1 535.5,339.1 536.7,340.6 537.7,342.6 538.8,347.9 539.8,351.2 541.2,344.3 542.7,340.6 543.9,335.7 545.0,328.1 546.2,322.2 547.4,314.5 548.6,315.8 549.8,320.2 550.9,320.9 552.1,324.0 553.3,320.2 554.5,314.1 555.7,309.0 556.9,305.0 558.1,307.1 559.2,305.3 560.4,308.3 561.6,307.4 563.3,308.0 564.4,303.7 565.5,303.1 566.6,298.0 567.6,295.8 568.7,296.2 569.8,293.3 570.8,293.9 572.0,294.2 573.1,297.2 574.3,295.0 575.4,296.6 576.6,298.0 577.6,298.3 578.6,294.8 579.6,292.5 580.6,293.1 581.6,291.4 582.8,291.4 583.9,290.7 585.1,288.1 586.2,289.6 587.4,288.1 588.4,288.8 589.5,292.6 590.5,291.8 591.5,294.7 592.7,293.9 593.8,288.8 595.0,289.1 596.1,284.3 597.3,283.1 598.3,286.5 599.4,286.1 600.5,288.4 601.5,289.8 602.6,291.9 603.7,289.7 604.8,291.4 605.8,291.6 606.8,288.5 607.8,287.8 608.8,287.8 609.8,284.8 611.0,286.3 612.2,288.7 613.5,291.7 614.7,293.1 615.7,290.8 616.7,293.3 617.7,290.6 618.7,291.6 619.7,289.8 620.7,292.2 621.7,290.7 622.7,294.5 623.7,295.7 624.7,294.5 625.7,296.8 626.7,296.7 627.7,295.7 628.7,292.3 629.8,293.0 630.8,290.3 631.8,291.6 632.8,289.7 633.8,289.1 634.8,289.9 635.8,288.1 636.9,289.5 637.9,288.9 638.9,288.1 639.9,288.3 641.0,288.2 642.0,287.3 643.1,288.1 644.1,286.4 645.2,287.6 646.3,287.7 647.3,286.6 648.4,285.5 649.5,287.3 650.7,286.9 651.8,290.2 653.0,288.8 654.1,291.1 655.2,293.1 656.4,291.7 657.5,295.3 658.7,295.3 659.8,296.8 660.8,299.6 661.9,300.3 663.0,304.6 664.0,305.3 665.1,303.5 666.1,303.6 667.2,300.6 668.3,299.6 669.4,303.5 670.5,304.8 671.5,305.6 672.6,308.2 673.6,313.1 674.7,314.1 675.8,319.6 676.8,322.4 677.9,325.6 679.0,332.7 680.0,335.2 681.1,340.9 682.1,347.2 683.1,352.2" stroke="#4A4798"/>
<polyline points="387.5,357.0 388.6,355.8 389.8,356.2 390.9,356.8 392.0,356.2 393.1,357.2 394.3,357.3 395.4,355.9 397.0,340.0 398.5,330.0 400.0,325.0 401.2,322.0 402.3,330.0 402.6,355.9 403.6,355.1 404.6,356.7 405.6,354.4 406.7,356.3 407.7,355.6 408.7,356.0 410.1,348.9 411.6,342.6 413.5,327.4 415.4,299.0 416.8,296.0 418.2,289.5 419.6,287.7 421.1,287.6 422.5,292.6 423.9,294.2 425.2,292.7 426.4,292.6 427.7,291.4 429.0,288.3 430.2,288.5 431.5,286.6 432.7,284.5 433.9,285.9 435.0,285.7 436.2,283.8 437.5,284.2 438.7,287.7 440.0,288.2 441.1,287.3 442.2,282.2 443.3,281.5 444.4,280.8 445.4,281.3 446.4,278.9 447.5,279.9 448.7,281.4 449.9,281.5 451.2,280.7 452.4,281.5 453.4,283.9 454.5,282.9 455.6,284.3 456.6,284.9 457.7,285.0 458.8,287.2 459.9,286.5 461.1,282.7 462.4,276.6 463.5,273.4 464.6,272.9 465.7,270.8 466.9,273.2 468.2,278.2 469.4,279.6 470.7,279.9 471.7,278.7 472.8,272.8 473.8,272.1 474.8,269.1 475.9,268.9 477.0,272.9 478.1,273.2 479.2,274.2 480.4,277.4 481.5,278.2 482.6,274.8 483.7,275.5 484.8,273.2 485.8,273.4 486.9,270.2 487.9,271.8 488.9,269.1 489.9,270.2 491.0,273.9 492.1,278.7 493.1,279.9 494.1,276.9 495.1,276.9 496.2,274.0 497.2,273.2 498.2,275.5 499.3,273.9 500.3,276.1 501.4,275.7 502.4,275.6 503.4,278.6 504.5,275.9 505.5,278.2 506.6,278.6 507.6,280.7 508.6,281.8 509.7,284.9 510.7,289.6 511.9,287.6 513.0,282.4 514.2,281.0 515.4,277.8 516.6,279.7 517.8,284.1 518.9,286.4 520.1,289.6 521.3,294.8 522.5,297.1 523.7,302.7 524.9,302.5 526.0,302.7 527.2,299.6 528.4,300.3 529.6,303.2 530.8,302.6 532.0,305.4 533.2,307.4 534.4,312.3 535.5,318.3 536.7,323.2 537.9,326.4 539.1,332.7 540.3,329.9 541.5,328.0 542.6,317.7 543.8,307.4 545.0,307.5 546.2,305.8 547.4,302.7 548.6,302.8 549.7,304.9 550.9,305.0 552.1,300.0 553.3,298.4 554.5,293.4 555.7,290.8 556.8,288.3 557.9,286.5 558.9,285.3 560.0,284.8 561.0,285.1 562.0,284.1 563.0,281.3 564.0,283.4 565.0,281.5 566.0,279.9 567.0,279.7 568.0,276.8 569.0,275.2 570.0,274.8 571.1,276.6 572.2,274.9 573.3,275.7 574.4,276.1 575.5,272.7 576.6,273.2 577.6,272.0 578.6,272.4 579.6,271.0 580.6,272.6 581.6,270.7 582.8,269.2 584.0,269.8 585.3,269.1 586.5,269.9 587.5,269.7 588.5,270.7 589.5,268.8 590.5,271.3 591.5,270.7 592.5,270.1 593.5,267.6 594.5,269.7 595.5,265.6 596.5,266.5 597.5,268.1 598.5,269.6 599.5,269.3 600.5,271.9 601.5,271.5 602.7,270.5 604.0,268.8 605.2,270.7 606.4,269.0 607.4,267.2 608.4,269.7 609.4,266.2 610.4,265.2 611.4,266.5 612.4,267.4 613.4,265.8 614.4,268.6 615.4,267.9 616.4,269.0 617.4,268.1 618.4,270.4 619.4,269.3 620.4,269.9 621.4,269.9 622.6,269.9 623.8,272.1 625.1,271.3 626.3,273.2 627.3,273.7 628.3,272.2 629.4,273.3 630.4,270.5 631.4,271.3 632.5,271.6 633.5,272.6 634.6,269.6 635.6,272.7 636.7,270.1 637.8,270.4 638.8,273.1 639.9,271.3 641.0,269.8 642.0,268.2 643.1,269.2 644.1,267.4 645.2,265.7 646.3,265.3 647.3,263.7 648.4,264.1 649.5,264.6 650.7,265.9 651.8,270.1 653.0,268.2 654.1,271.3 655.2,273.3 656.4,272.7 657.5,274.9 658.7,274.1 659.8,276.9 660.8,281.1 661.9,283.5 663.0,290.3 664.0,292.6 665.1,286.9 666.1,285.2 667.2,279.6 668.3,276.9 669.4,280.6 670.6,281.3 671.7,285.0 672.9,285.5 674.0,288.3 675.0,289.9 676.1,291.4 677.2,290.1 678.2,291.1 679.7,305.3 681.1,319.5 682.1,333.8 683.1,348.0" stroke="#F08A12"/>
</g>

<!-- plot frames -->
<g fill="none" stroke-width="1">
<path d="M40.5 226.6 H336.6 V357.6" stroke="#ABA5A1"/>
<path d="M40.5 357.6 V226.6" stroke="#8E8782"/>
<path d="M40.5 357.5 H336.6" stroke="#A8977E"/>
<path d="M387 226.8 H683.3 V357.4" stroke="#ABA5A1"/>
<path d="M387 357.4 V226.8" stroke="#8E8782"/>
<path d="M387 357.3 H683.3" stroke="#A8977E"/>
</g>
<!-- axis labels -->
<g class="m" font-size="12.6" text-anchor="end" style="stroke-width:0.2">
<text x="38.5" y="240">2000</text>
<text x="38.5" y="270.9">500</text>
<text x="38.5" y="306.6">100</text>
<text x="38.5" y="320">50</text>
<text x="38.5" y="336.7">20</text>
<text x="36.3" y="360.7">0</text>
<text x="385.2" y="265.9">500</text>
<text x="385.2" y="303.2">100</text>
<text x="385.2" y="318">50</text>
<text x="385.2" y="334">20</text>
<text x="385.2" y="361.8">0</text>
</g>
<g class="m" font-size="12.6" text-anchor="middle" style="stroke-width:0.2">
<text x="40.3" y="368.8">0</text>
<text x="116.8" y="368.8">1000</text>
<text x="191.2" y="368.8">2000</text>
<text x="267.5" y="368.8">3000</text>
<text x="387.6" y="368.9">0</text>
<text x="441.4" y="368.9">500</text>
<text x="496.6" y="368.9">1000</text>
<text x="550.6" y="368.9">1500</text>
<text x="606.7" y="368.9">2000</text>
<text x="660.7" y="368.9">2500</text>
</g>
<!-- green bars -->
<g shape-rendering="crispEdges">
<rect x="38.9" y="385.1" width="297.3" height="17.4" fill="#F1FAEF"/>
<rect x="38.9" y="385.1" width="15.1" height="17.4" fill="#0B4B24"/>
<rect x="137.8" y="385.1" width="51.8" height="17.4" fill="#26843B"/>
<rect x="387" y="385.1" width="296.6" height="17.4" fill="#F1FAEF"/>
<rect x="387" y="385.1" width="27.3" height="17.4" fill="#0B4B24"/>
<rect x="496.1" y="385.1" width="66" height="17.4" fill="#26843B"/>
</g>
<g class="m" font-size="17" style="stroke-width:0.1">
<text x="36.3" y="422">23</text>
<text x="149.2" y="422">17.8</text>
<text x="390.5" y="422">24</text>
<text x="513" y="422">20.1</text>
</g>
</svg>
</body></html>
